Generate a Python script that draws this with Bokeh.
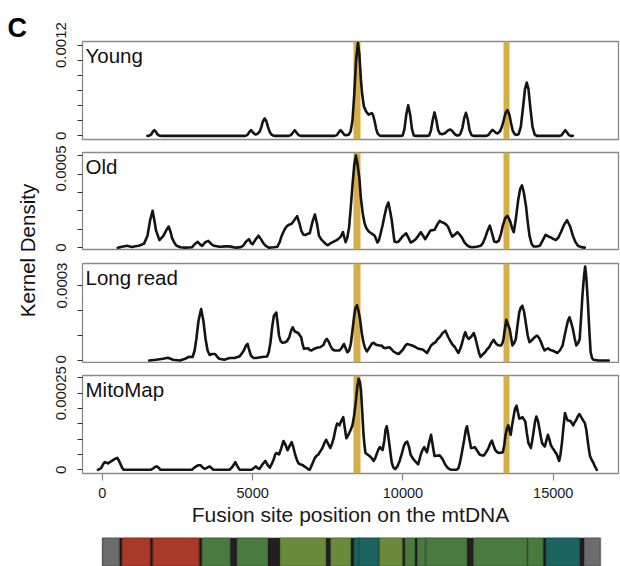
import math
from bokeh.plotting import figure
from bokeh.models import Range1d, FixedTicker, CustomJSTickFormatter, Label
from bokeh.layouts import row, column
from bokeh.embed import file_html
from bokeh.resources import INLINE

# ---------------- data ----------------
# x: fusion site position (bp); density in units of 1e-4
young_points = [(1500,0),(1560,0.03),(1630,0.2),(1680,0.55),(1729,0.75),(1780,0.55),(1830,0.2),(1900,0.03),(1960,0),
    (4750,0),(4820,0.1),(4880,0.45),(4946,0.75),(5010,0.45),(5082,0.2),(5160,0.25),(5240,0.6),(5290,1.2),(5340,1.9),(5400,2.3),(5460,1.9),(5510,1.2),(5560,0.6),(5620,0.2),(5690,0.03),(5760,0),
    (6200,0),(6270,0.1),(6340,0.45),(6400,0.75),(6460,0.45),(6530,0.1),(6600,0),
    (7730,0),(7800,0.1),(7860,0.45),(7923,0.75),(7990,0.45),(8050,0.15),(8100,0.08),(8190,0.15),(8260,0.6),(8320,2.0),(8380,5.5),(8440,10.0),(8503,12.3),(8550,10.8),(8600,7.5),(8640,5.6),(8700,3.9),(8776,3.2),(8860,2.8),(8930,2.95),(8969,3.0),(9010,2.7),(9060,1.9),(9110,0.9),(9160,0.3),(9230,0.03),(9300,0),
    (9950,0),(9990,0.05),(10050,0.9),(10110,2.8),(10174,4.05),(10240,2.8),(10300,0.9),(10360,0.05),(10400,0),
    (10830,0),(10870,0.05),(10930,0.7),(10990,2.1),(11049,3.1),(11110,2.1),(11170,0.75),(11230,0.3),(11300,0.22),(11400,0.35),(11490,0.7),(11572,0.85),(11650,0.6),(11730,0.2),(11800,0.05),
    (11870,0.1),(11920,0.35),(11980,1.1),(12035,2.3),(12095,3.05),(12155,2.2),(12215,0.75),(12280,0.1),(12340,0),
    (12780,0),(12850,0.15),(12920,0.55),(12981,0.78),(13040,0.6),(13100,0.38),(13152,0.33),(13230,0.6),(13300,1.3),(13360,2.2),(13420,3.1),(13481,3.4),(13540,2.8),(13600,1.6),(13650,0.7),(13710,0.25),(13780,0.12),(13850,0.25),(13920,1.2),(13990,3.6),(14060,6.2),(14118,7.05),(14175,6.2),(14240,3.6),(14310,1.2),(14380,0.2),(14450,0),
    (15220,0),(15280,0.1),(15340,0.45),(15402,0.75),(15460,0.45),(15520,0.1),(15580,0),(15650,0)]

old_points = [(513,0),(650,0.05),(820,0.1),(990,0.04),(1100,0.08),(1217,0.1),(1388,0.22),(1502,0.65),(1590,1.5),(1672,2.0),(1740,1.4),(1786,0.93),(1900,0.41),(2036,0.65),(2130,0.95),(2206,1.15),(2270,0.85),(2320,0.52),(2400,0.25),(2468,0.1),(2600,0.02),(2752,0),
    (2979,0.02),(3080,0.2),(3172,0.32),(3250,0.18),(3320,0.1),(3430,0.3),(3525,0.37),(3620,0.2),(3718,0.1),(3900,0.05),(4116,0.07),(4229,0.07),(4350,0.03),(4457,0),(4600,0.03),(4684,0.1),(4790,0.35),(4877,0.46),(4946,0.25),(5002,0.19),(5100,0.45),(5195,0.65),(5280,0.45),(5366,0.22),(5450,0.08),(5536,0),
    (5700,0.02),(5820,0.05),(5900,0.3),(5968,0.65),(6050,0.95),(6127,1.15),(6210,1.25),(6298,1.3),(6390,1.5),(6480,1.71),(6560,1.3),(6616,0.93),(6680,0.72),(6753,0.69),(6830,0.75),(6900,0.78),(6990,1.4),(7071,1.8),(7140,1.3),(7207,0.65),(7280,0.45),(7355,0.33),(7430,0.2),(7503,0.13),(7600,0.25),(7696,0.33),(7780,0.4),(7844,0.46),(7930,0.6),(8003,0.84),(8050,0.55),(8094,0.3),
    (8150,0.55),(8207,1.1),(8260,2.1),(8321,3.4),(8380,4.5),(8435,5.0),(8490,4.5),(8548,3.8),(8600,2.7),(8662,1.86),(8720,1.35),(8776,1.08),(8860,0.88),(8946,0.78),(9000,0.72),(9060,0.65),(9110,0.45),(9151,0.28),(9200,0.4),(9253,0.74),(9320,1.2),(9378,1.67),(9450,2.2),(9515,2.45),(9570,2.0),(9628,1.49),(9680,0.8),(9719,0.33),(9790,0.3),(9856,0.33),
    (9980,0.6),(10106,0.78),(10180,0.55),(10253,0.28),(10340,0.35),(10424,0.46),(10510,0.65),(10594,0.84),(10670,0.65),(10742,0.46),(10830,0.7),(10912,0.93),(10980,0.95),(11049,0.97),(11140,1.25),(11220,1.45),(11290,1.38),(11367,1.34),(11440,1.25),(11504,1.12),(11570,0.85),(11640,0.6),(11720,0.7),(11810,0.84),(11880,0.72),(11958,0.56),(12040,0.3),(12129,0.13),(12220,0.05),(12299,0.02),
    (12450,0.05),(12583,0.1),(12660,0.25),(12731,0.52),(12810,0.9),(12890,1.2),(12960,0.8),(13038,0.33),(13110,0.3),(13186,0.37),(13260,0.75),(13322,1.2),(13400,1.6),(13470,1.73),(13520,1.6),(13573,1.4),(13630,1.05),(13686,0.84),(13750,1.5),(13834,2.6),(13900,3.2),(13959,3.38),(14020,3.0),(14095,2.23),(14150,1.4),(14209,0.65),(14280,0.2),(14345,0.06),
    (14450,0.06),(14550,0.1),(14650,0.4),(14743,0.69),(14830,0.62),(14913,0.56),(15000,0.48),(15084,0.41),(15170,0.55),(15254,0.84),(15360,1.25),(15459,1.49),(15560,1.15),(15652,0.65),(15740,0.3),(15822,0.1),(15930,0.03),(16050,0)]

long_points = [(1558,0),(1786,0.03),(2013,0.07),(2184,0.11),(2354,0.03),(2581,0),(2752,0.07),(2888,0.15),(3002,0.14),(3070,0.4),(3127,0.86),(3200,1.6),(3286,2.06),(3360,1.6),(3434,0.86),(3500,0.4),(3570,0.22),(3650,0.26),(3752,0.26),(3820,0.15),(3888,0.07),(4059,0.03),(4229,0.1),(4400,0.1),(4570,0.17),(4650,0.3),(4707,0.4),(4770,0.58),(4832,0.66),(4890,0.4),(4946,0.19),(5030,0.1),(5116,0.1),(5309,0.14),(5480,0.16),
    (5540,0.35),(5593,0.73),(5650,1.35),(5707,1.79),(5786,1.92),(5830,1.5),(5877,1.0),(5930,0.78),(5991,0.71),(6060,0.72),(6139,0.77),(6218,0.93),(6280,1.2),(6332,1.33),(6380,1.2),(6423,1.15),(6525,1.09),(6570,1.0),(6616,0.93),(6660,0.65),(6707,0.47),(6780,0.48),(6844,0.49),(6900,0.42),(6957,0.4),(7020,0.45),(7094,0.49),(7170,0.52),(7241,0.53),(7355,0.62),(7420,0.8),(7469,0.86),(7530,0.75),(7582,0.6),(7650,0.45),(7730,0.4),(7889,0.4),(7960,0.5),(8037,0.66),(8090,0.5),(8151,0.33),
    (8210,0.4),(8264,0.66),(8320,1.2),(8378,1.79),(8420,2.1),(8469,2.21),(8520,2.0),(8571,1.66),(8630,1.1),(8685,0.73),(8740,0.5),(8799,0.36),(8850,0.45),(8912,0.57),(8970,0.68),(9026,0.71),(9080,0.65),(9140,0.62),(9210,0.6),(9287,0.6),(9350,0.52),(9424,0.49),(9490,0.52),(9549,0.53),(9620,0.45),(9685,0.36),(9770,0.3),(9856,0.26),(9930,0.35),(10003,0.44),(10070,0.58),(10140,0.66),(10220,0.63),(10310,0.6),(10400,0.55),(10481,0.49),(10560,0.46),(10651,0.44),(10720,0.38),(10799,0.3),
    (10870,0.45),(10935,0.6),(11010,0.68),(11083,0.73),(11150,0.85),(11220,0.93),(11320,1.1),(11413,1.19),(11500,0.95),(11583,0.76),(11660,0.62),(11731,0.53),(11790,0.4),(11845,0.3),(11900,0.45),(11958,0.66),(12020,0.95),(12072,1.13),(12130,0.95),(12186,0.86),(12270,0.95),(12356,1.1),(12410,0.9),(12470,0.6),(12530,0.3),(12583,0.14),(12660,0.25),(12731,0.33),(12800,0.45),(12867,0.53),(12940,0.7),(13015,0.83),(13080,0.7),(13152,0.62),(13210,0.6),(13266,0.6),(13310,0.7),(13345,0.86),(13390,1.25),(13436,1.63),(13490,1.45),(13550,1.26),(13600,0.9),(13641,0.6),
    (13700,0.7),(13754,0.86),(13810,1.4),(13868,1.92),(13920,2.12),(13970,2.19),(14030,1.95),(14084,1.52),(14150,1.0),(14209,0.73),(14260,0.78),(14323,0.86),(14400,0.95),(14459,1.0),(14530,0.9),(14595,0.73),(14650,0.55),(14709,0.4),(14770,0.45),(14822,0.49),(14900,0.42),(14970,0.4),(15060,0.35),(15141,0.3),(15230,0.42),(15311,0.6),(15370,0.95),(15425,1.26),(15490,1.6),(15539,1.73),(15600,1.5),(15652,1.26),(15710,0.9),(15766,0.6),(15830,0.7),(15879,0.86),
    (15930,1.8),(15970,2.59),(16020,3.35),(16061,3.76),(16100,3.3),(16152,2.32),(16200,1.2),(16243,0.33),(16290,0.1),(16334,0.03),(16505,0),(16846,0)]

mito_points = [(-147,0),(-80,0.03),(-33,0.07),(20,0.17),(81,0.25),(140,0.23),(194,0.21),(280,0.27),(365,0.32),(430,0.36),(501,0.39),(550,0.3),(592,0.21),(650,0.08),(706,0),(1615,0),(1700,0.05),(1760,0.1),(1820,0.11),(1880,0.06),(1933,0),
    (2979,0),(3060,0.07),(3150,0.13),(3210,0.15),(3263,0.15),(3340,0.07),(3411,0.03),(3490,0.07),(3570,0.11),(3640,0.05),(3695,0),(4229,0),(4330,0.1),(4423,0.25),(4500,0.1),(4570,0),(4968,0),(5040,0.06),(5105,0.11),(5170,0.05),(5230,0.03),(5330,0.18),(5423,0.29),(5500,0.15),(5571,0.07),(5640,0.2),(5707,0.36),(5750,0.5),(5798,0.55),(5840,0.52),(5877,0.5),(5950,0.7),(6025,0.94),(6090,0.82),(6162,0.64),(6230,0.78),(6298,0.9),(6350,0.75),(6412,0.5),(6470,0.33),(6525,0.21),(6600,0.17),(6673,0.15),(6730,0.1),(6787,0.07),(6850,0.02),(6900,0),
    (6980,0.18),(7071,0.39),(7130,0.46),(7184,0.5),(7250,0.6),(7321,0.71),(7390,0.88),(7446,0.98),(7510,0.85),(7582,0.71),(7640,0.85),(7696,1.03),(7750,1.3),(7810,1.51),(7850,1.48),(7889,1.45),(7950,1.6),(8014,1.72),(8060,1.4),(8117,1.03),(8160,1.1),(8207,1.19),(8260,1.3),(8321,1.45),(8380,1.8),(8435,2.25),(8480,2.7),(8526,2.97),(8570,2.85),(8605,2.57),(8645,1.9),(8685,1.19),(8720,0.8),(8753,0.55),(8820,0.5),(8890,0.45),(8960,0.38),(9026,0.29),(9085,0.4),(9140,0.55),(9190,0.68),(9230,0.74),(9280,0.68),(9321,0.64),(9380,0.95),(9420,1.3),(9458,1.42),(9500,1.2),(9549,0.82),(9590,0.5),(9628,0.23),(9680,0.08),(9742,0.02),
    (9820,0.12),(9890,0.29),(9960,0.52),(10026,0.76),(10080,0.88),(10140,0.92),(10200,0.75),(10253,0.5),(10310,0.4),(10367,0.32),(10440,0.24),(10504,0.18),(10550,0.33),(10594,0.5),(10650,0.65),(10708,0.74),(10750,0.65),(10799,0.57),(10860,0.85),(10935,1.14),(10990,0.8),(11049,0.45),(11130,0.46),(11220,0.47),(11280,0.4),(11333,0.32),(11400,0.18),(11481,0.07),(11550,0.02),(11617,0),(11780,0),
    (11845,0.05),(11900,0.25),(11958,0.55),(12040,1.0),(12090,1.3),(12129,1.42),(12190,1.1),(12265,0.71),(12330,0.72),(12390,0.74),(12470,0.62),(12549,0.5),(12620,0.47),(12697,0.47),(12770,0.58),(12845,0.71),(12900,0.85),(12958,0.95),(13010,0.8),(13072,0.64),(13130,0.58),(13186,0.55),(13260,0.56),(13322,0.57),(13370,0.8),(13413,1.14),(13460,1.35),(13504,1.45),(13545,1.3),(13583,1.14),(13630,1.45),(13686,1.77),(13730,2.0),(13777,2.09),(13820,1.9),(13868,1.67),(13920,1.68),(13970,1.72),(14020,1.65),(14073,1.56),(14120,1.2),(14175,0.87),(14254,0.71),
    (14300,0.95),(14345,1.24),(14390,1.55),(14436,1.74),(14490,1.6),(14538,1.35),(14590,1.05),(14629,0.87),(14680,0.8),(14720,0.76),(14770,0.95),(14822,1.14),(14870,1.0),(14913,0.82),(14970,0.72),(15027,0.64),(15070,0.57),(15118,0.5),(15160,0.38),(15197,0.29),(15240,0.5),(15288,0.87),(15340,1.4),(15391,1.85),(15440,1.7),(15482,1.61),(15530,1.6),(15573,1.59),(15620,1.52),(15663,1.45),(15710,1.55),(15766,1.63),(15820,1.75),(15868,1.82),(15910,1.75),(15959,1.67),(16000,1.6),(16050,1.53),(16100,1.3),(16141,0.98),(16180,0.7),(16221,0.45),(16280,0.32),(16334,0.23),(16390,0.1),(16448,0)]

panel_names = ["Young", "Old", "Long read", "MitoMap"]
breakpoints = [8470, 13447]          # common deletion breakpoints (gold bands)

young_ticks = [0, 0.0002, 0.0004, 0.0006, 0.0008, 0.0010, 0.0012]
young_labels = ["0", "", "", "", "", "", "0.0012"]
old_ticks = [0, 0.0001, 0.0002, 0.0003, 0.0004, 0.0005]
old_labels = ["0", "", "", "", "", "0.0005"]
long_ticks = [0, 0.0001, 0.0002, 0.0003]
long_labels = ["0", "", "", "0.0003"]
mito_ticks = [0, 0.00005, 0.0001, 0.00015, 0.0002, 0.00025, 0.0003]
mito_labels = ["0", "", "", "", "", "0.00025", ""]
x_ticks = [0, 5000, 10000, 15000]

# mtDNA gene map (start, end, class)
gene_start = [0, 648, 1671, 3307, 4470, 5904, 7586, 8366, 8527, 9207, 10059, 10470, 10760, 12337, 14149, 14747, 16024]
gene_end = [577, 1601, 3229, 4262, 5511, 7445, 8269, 8572, 9207, 9990, 10404, 10766, 12137, 14148, 14673, 15887, 16569]
gene_class = ["control", "rRNA", "rRNA", "CI", "CI", "CIV", "CIV", "CV", "CV", "CIV", "CI", "CI", "CI", "CI", "CI", "CIII", "control"]
mtdna_length = 16569

# ---------------- style ----------------
FONT = "Liberation Sans"
GOLD = "#D5AE47"
CURVE = "#141414"
BOX = "#8a8a8a"
class_colors = {"control": "#6c6c6c", "rRNA": "#a83a27", "CI": "#4a7a40", "CIV": "#6a8a3c", "CV": "#1c6460", "CIII": "#1c6460"}
GAP = "#231f20"

x_range = Range1d(-660, 17170)

def panel(name, points, yr, ticks, labels, height, top, bottom, frame_h, orient, bottom_axis=False):
    p = figure(width=570, height=height, x_range=x_range, y_range=Range1d(*yr),
               output_backend="svg", toolbar_location=None,
               x_axis_location="below" if bottom_axis else None,
               min_border_left=32, min_border_right=2,
               min_border_top=top, min_border_bottom=bottom)
    p.grid.visible = False
    p.outline_line_color = BOX
    p.outline_line_width = 1.3
    p.background_fill_color = "white"
    p.border_fill_color = "white"
    p.vstrip(x0=[b - 108 for b in breakpoints], x1=[b + 108 for b in breakpoints],
             fill_color=GOLD, line_color=None)
    xs = [pt[0] for pt in points]
    ys = [pt[1] * 1e-4 for pt in points]
    p.line(xs, ys, line_color=CURVE, line_width=2.6, line_join="round", line_cap="round")
    ax = p.yaxis[0]
    ax.ticker = FixedTicker(ticks=ticks, minor_ticks=[])
    ax.formatter = CustomJSTickFormatter(args=dict(vals=ticks, labels=labels), code="""
        for (let i = 0; i < vals.length; i++) { if (Math.abs(vals[i] - tick) < 1e-12) return labels[i]; }
        return "";""")
    ax.axis_line_color = None
    ax.major_tick_out = 5
    ax.major_tick_in = 0
    ax.major_tick_line_color = "#333333"
    ax.major_tick_line_width = 1.2
    ax.major_label_orientation = orient
    ax.major_label_text_font = FONT
    ax.major_label_text_font_size = "15px"
    ax.major_label_text_color = "#1a1a1a"
    ax.major_label_standoff = 11
    if bottom_axis:
        xa = p.xaxis[0]
        xa.ticker = FixedTicker(ticks=x_ticks, minor_ticks=[])
        xa.axis_line_color = None
        xa.major_tick_out = 7
        xa.major_tick_in = 0
        xa.major_tick_line_color = "#888888"
        xa.major_tick_line_width = 1.2
        xa.major_label_text_font = FONT
        xa.major_label_text_font_size = "14.5px"
        xa.major_label_text_color = "#1a1a1a"
        xa.major_label_standoff = 7
        xa.axis_label = "Fusion site position on the mtDNA"
        xa.axis_label_text_font = FONT
        xa.axis_label_text_font_size = "21px"
        xa.axis_label_text_font_style = "normal"
        xa.axis_label_text_color = "#1a1a1a"
        xa.axis_label_standoff = 2
    p.add_layout(Label(x=3, y=frame_h - 14, x_units="screen", y_units="screen", text=name,
                       text_font=FONT, text_font_size="20.5px", text_color="#111111",
                       text_baseline="alphabetic"))
    return p

f1 = panel(panel_names[0], young_points, (-0.000048, 0.001248), young_ticks, young_labels, 145, 41, 6, 98, "parallel")
f2 = panel(panel_names[1], old_points, (-0.000010, 0.000517), old_ticks, old_labels, 110, 7, 6, 97, "vertical")
f3 = panel(panel_names[2], long_points, (-0.000008, 0.000388), long_ticks, long_labels, 108, 8, 1, 99, "vertical")
f4 = panel(panel_names[3], mito_points, (-0.0000121, 0.0003076), mito_ticks, mito_labels, 172, 12, 62, 98, "parallel", bottom_axis=True)

# gene map bar
fb = figure(width=570, height=31, x_range=x_range, y_range=Range1d(0, 1),
            output_backend="svg", toolbar_location=None,
            x_axis_location=None, y_axis_location=None,
            min_border_left=32, min_border_right=2, min_border_top=2, min_border_bottom=0)
fb.grid.visible = False
fb.outline_line_color = None
fb.border_fill_color = "white"
fb.quad(left=[0], right=[mtdna_length], bottom=[0], top=[1], fill_color=GAP, line_color=None)
fb.quad(left=gene_start, right=gene_end, bottom=[0] * len(gene_start), top=[1] * len(gene_start),
        fill_color=[class_colors[c] for c in gene_class],
        line_color="#000000", line_alpha=0.13, line_width=2.5)

# left strip with panel letter and shared y label
left = figure(width=50, height=566, output_backend="svg", toolbar_location=None,
              x_axis_location=None, y_axis_location=None,
              min_border_left=0, min_border_right=0, min_border_top=0, min_border_bottom=0,
              x_range=Range1d(0, 1), y_range=Range1d(0, 1))
left.grid.visible = False
left.outline_line_color = None
left.border_fill_color = "white"
left.background_fill_color = "white"
left.add_layout(Label(x=7, y=566 - 27, x_units="screen", y_units="screen", text="C",
                      text_font=FONT, text_font_size="27px", text_font_style="bold",
                      text_color="#000000", text_baseline="alphabetic"))
left.add_layout(Label(x=27, y=566 - 250, x_units="screen", y_units="screen", text="Kernel Density",
                      angle=math.pi / 2, text_font=FONT, text_font_size="20.5px",
                      text_color="#111111", text_align="center", text_baseline="alphabetic"))

layout = row(left, column(f1, f2, f3, f4, fb))
open("out.html", "w").write(file_html(layout, INLINE))
